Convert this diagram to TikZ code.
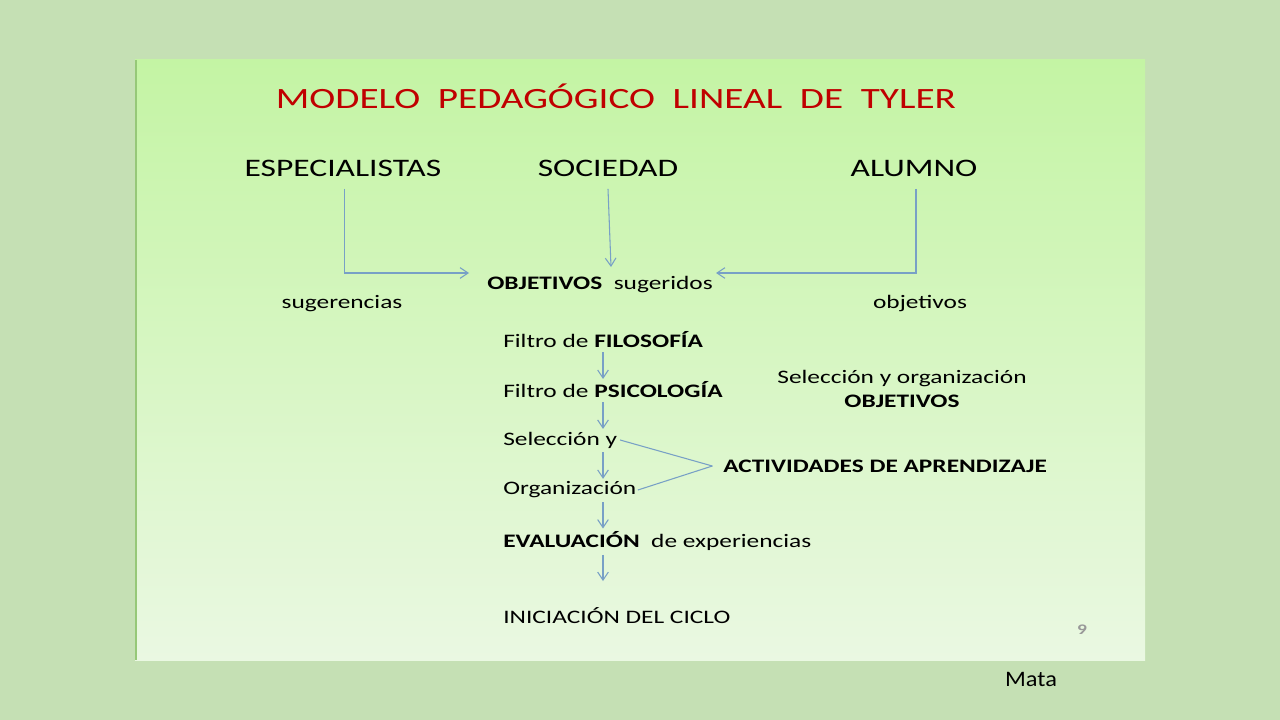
\documentclass[tikz,border=0pt]{standalone}
\usepackage{fontspec}
\setmainfont{Carlito}[FakeStretch=1.33]
\newfontfamily\matafont{Carlito}[FakeStretch=1.1]
\usetikzlibrary{arrows.meta, positioning}

\definecolor{outerbg}{RGB}{197,224,180}
\definecolor{paneltop}{RGB}{196,244,164}
\definecolor{panelbot}{RGB}{234,248,226}
\definecolor{paneledge}{RGB}{150,200,120}
\definecolor{titlered}{RGB}{192,0,0}
\definecolor{arrblue}{RGB}{120,160,198}

\begin{document}
\begin{tikzpicture}[
  x=0.75pt, y=-0.75pt,
  title/.style={text=titlered, font=\fontsize{22.1}{26}\selectfont},
  hdr/.style={font=\fontsize{18.9}{23}\selectfont},
  txt/.style={font=\fontsize{14.3}{17}\selectfont, anchor=west, inner sep=0pt},
  ctxt/.style={font=\fontsize{14.3}{17}\selectfont, inner sep=0pt, align=center},
  arr/.style={-{Straight Barb[length=6pt,width=8pt]}, draw=arrblue, line width=0.8pt},
  ln/.style={draw=arrblue, line width=0.8pt}
]
\useasboundingbox (0,0) rectangle (1280,720);
\fill[outerbg] (0,0) rectangle (1280,720);
\shade[top color=paneltop, bottom color=panelbot] (135,60) rectangle (1145,660);
\draw[paneledge, line width=1.5pt] (136,60) -- (136,660);

\node[title] (ttl) at (616,96) {MODELO~ PEDAGÓGICO~ LINEAL~ DE~ TYLER};

\node[hdr] (esp) at (343,168) {ESPECIALISTAS};
\node[hdr] (soc) at (608,168) {SOCIEDAD};
\node[hdr] (alu) at (914,168) {ALUMNO};

\node[txt] (obj) at (487,285) {\textbf{OBJETIVOS}~ sugeridos};
\node[ctxt] (sug) at (342,304) {sugerencias};
\node[ctxt] (objv) at (920,304) {objetivos};

\node[txt] (fil) at (503,340) {Filtro de \textbf{FILOSOFÍA}};
\node[txt] (psi) at (503,390) {Filtro de \textbf{PSICOLOGÍA}};
\node[txt] (sel) at (503,440) {Selección y};
\node[txt] (org) at (503,490) {Organización};
\node[txt] (eva) at (503,541) {\textbf{EVALUACIÓN}~ de experiencias};
\node[txt] (ini) at (503,616) {INICIACIÓN DEL CICLO};

\node[ctxt] (selorg) at (902,389) {Selección y organización\\[1pt]\textbf{OBJETIVOS}};
\node[txt] (act) at (723,466) {\textbf{ACTIVIDADES DE APRENDIZAJE}};

\node[font=\fontsize{11}{13}\selectfont\bfseries, text=gray!80] (pg) at (1082,630) {9};
\node[font=\matafont\fontsize{16.6}{20}\selectfont] (mata) at (1031,679) {Mata};

% arrows into OBJETIVOS
\coordinate (objL) at (469,273);
\coordinate (objR) at (716,273);
\coordinate (objT) at (611,267);
\coordinate (ax) at (603,0);
\draw[arr] ([xshift=1pt,yshift=-6pt]esp.south) |- (objL);
\draw[arr] ([yshift=-6pt]soc.south) -- (objT);
\draw[arr] ([xshift=1.5pt,yshift=-6pt]alu.south) |- (objR);

% chain
\draw[arr] ([yshift=-3pt]fil.south -| ax) -- ([yshift=2pt]psi.north -| ax);
\draw[arr] ([yshift=-3pt]psi.south -| ax) -- ([yshift=2pt]sel.north -| ax);
\draw[arr] ([yshift=-3pt]sel.south -| ax) -- ([yshift=2pt]org.north -| ax);
\draw[arr] ([yshift=-3pt]org.south -| ax) -- ([yshift=2pt]eva.north -| ax);
\draw[arr] ([yshift=-3pt]eva.south -| ax) -- ([yshift=20pt]ini.north -| ax);

% lines to ACTIVIDADES
\draw[ln] ([xshift=2pt]sel.east) -- ([xshift=-8pt]act.west);
\draw[ln] ([xshift=1pt]org.east) -- ([xshift=-8pt]act.west);
\end{tikzpicture}
\end{document}
